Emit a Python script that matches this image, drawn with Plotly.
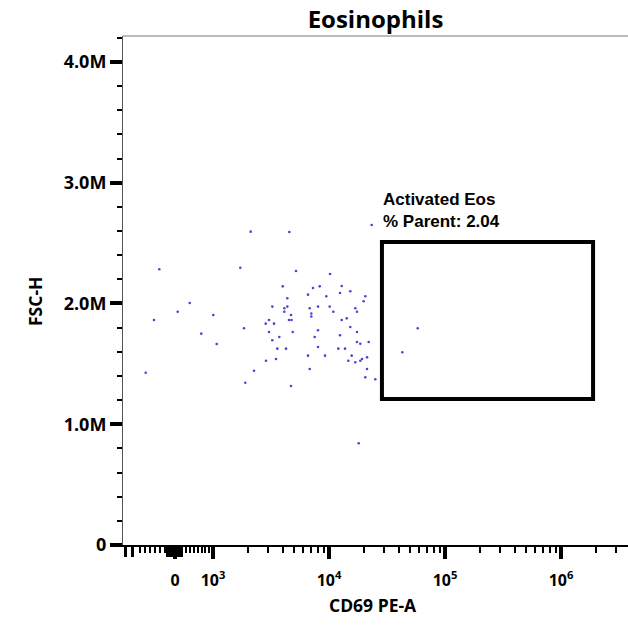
import numpy as np
import plotly.graph_objects as go

# ---- data (CD69 PE-A raw values, FSC-H) ----
cd69 = [2113, -314, 1719, 387, 71, -420, 1005, 1850, 692, 1076,
        -586, 2256, 1898, 4548, 5194, 3990, 4370, 3245, 4119, 4370,
        4119, 4704, 4521, 4751, 3040, 2847, 3357, 3040, 4866, 3729,
        3245, 3584, 4259, 2864, 3493, 4704, 6592, 7278, 8316, 6818,
        8040, 7038, 7038, 8040, 7527, 8040, 6592, 6818, 9238, 23340,
        10200, 12870, 9478, 12440, 15260, 20560, 19910, 10140, 10890, 16860,
        17430, 12870, 14210, 15260, 17430, 12440, 17430, 18620, 21990, 12030,
        13740, 15690, 14670, 16860, 18620, 19260, 21270, 21270, 20560, 25070,
        58180, 42850, 18030]
fsc = [2.595e6, 2.283e6, 2.296e6, 2.004e6, 1.932e6, 1.863e6, 1.905e6, 1.795e6, 1.750e6, 1.665e6,
       1.427e6, 1.443e6, 1.344e6, 2.592e6, 2.269e6, 2.142e6, 2.043e6, 1.974e6, 1.960e6, 1.974e6,
       1.932e6, 1.905e6, 1.863e6, 1.863e6, 1.863e6, 1.833e6, 1.833e6, 1.764e6, 1.764e6, 1.723e6,
       1.695e6, 1.626e6, 1.626e6, 1.526e6, 1.540e6, 1.317e6, 2.073e6, 2.128e6, 2.142e6, 1.960e6,
       1.974e6, 1.917e6, 1.892e6, 1.778e6, 1.723e6, 1.640e6, 1.568e6, 1.458e6, 1.568e6, 2.650e6,
       2.244e6, 2.145e6, 2.060e6, 2.087e6, 2.101e6, 2.060e6, 2.018e6, 1.974e6, 1.932e6, 1.960e6,
       1.932e6, 1.863e6, 1.877e6, 1.805e6, 1.764e6, 1.737e6, 1.681e6, 1.667e6, 1.681e6, 1.626e6,
       1.626e6, 1.568e6, 1.526e6, 1.513e6, 1.526e6, 1.540e6, 1.554e6, 1.458e6, 1.389e6, 1.372e6,
       1.795e6, 1.596e6, 0.842e6]

gate_x = [28600, 1890000]
gate_y = [1.21e6, 2.51e6]
gate_name = "Activated Eos"
gate_pct = 2.04

title = "Eosinophils"
x_title = "CD69 PE-A"
y_title = "FSC-H"

x_major = [0, 1e3, 1e4, 1e5, 1e6]
x_major_text = ["0", "10<sup>3</sup>", "10<sup>4</sup>", "10<sup>5</sup>", "10<sup>6</sup>"]
x_extra_long = [-1000, -850, -160, -120, -80, -40, 0, 40, 80, 120, 160]
x_minor = ([-700, -600, -500, -400, -300, -200] + [300, 400, 500, 600, 700, 800, 900]
           + [m * 10 ** k for k in (3, 4, 5) for m in range(2, 10)] + [2e6, 3e6, 4e6])
y_major = [0, 1e6, 2e6, 3e6, 4e6]
y_major_text = ["0", "1.0M", "2.0M", "3.0M", "4.0M"]
y_range = [0, 4.215e6]

# ---- biexponential-like display transform ----
LIN_POS = 38 / 116.0
LIN_NEG = 50 / 116.0
D0 = 3 - LIN_POS


def biex(v):
    v = np.asarray(v, dtype=float)
    logp = np.log10(np.maximum(v, 1e3))
    return np.where(v >= 1000, logp,
                    np.where(v >= 0, D0 + v / 1000 * LIN_POS, D0 + v / 1000 * LIN_NEG))


xr = [float(biex(-1040)), float(3 + 415 / 116.0)]

fig = go.Figure()
fig.add_trace(go.Scatter(
    x=biex(cd69), y=fsc, mode="markers",
    marker=dict(size=2.6, color="rgb(70,70,215)", line=dict(width=0)),
    hoverinfo="skip", showlegend=False))

gx = biex(gate_x)
fig.add_shape(type="rect", x0=float(gx[0]), x1=float(gx[1]), y0=gate_y[0], y1=gate_y[1],
              xref="x", yref="y", line=dict(color="black", width=4), fillcolor="rgba(0,0,0,0)")
fig.add_annotation(x=float(gx[0]), y=gate_y[1], xref="x", yref="y",
                   text=f"{gate_name}<br>% Parent: {gate_pct:.2f}",
                   showarrow=False, xanchor="left", yanchor="bottom", align="left",
                   xshift=-1, yshift=9,
                   font=dict(family="Liberation Sans", size=17, color="black", weight="bold"))

# top border
fig.add_shape(type="line", xref="paper", yref="paper", x0=0, x1=1, y0=1, y1=1,
              line=dict(color="#777777", width=1))

x_tick_font = dict(family="Open Sans", size=16, color="black", weight="bold")
y_tick_font = dict(family="Open Sans", size=18, color="black", weight="bold")

fig.update_layout(
    xaxis=dict(range=xr, showgrid=False, zeroline=False,
               showline=True, linecolor="black", linewidth=2,
               tickmode="array", tickvals=list(biex(x_major)), ticktext=x_major_text,
               ticks="outside", ticklen=12, tickwidth=3.5, tickcolor="black",
               ticklabelstandoff=8, tickfont=x_tick_font,
               minor=dict(tickmode="array", tickvals=list(biex(x_minor)),
                          ticks="outside", ticklen=6, tickwidth=2, tickcolor="black")),
    xaxis2=dict(range=xr, overlaying="x", matches="x", side="bottom", anchor="y",
                showgrid=False, zeroline=False, showline=False,
                tickmode="array", tickvals=list(biex(x_extra_long)),
                ticks="outside", ticklen=11, tickwidth=3, tickcolor="black",
                showticklabels=False),
    yaxis=dict(range=y_range, showgrid=False, zeroline=False,
               showline=True, linecolor="#555555", linewidth=1,
               tickmode="array", tickvals=y_major, ticktext=y_major_text,
               ticks="outside", ticklen=12, tickwidth=4, tickcolor="black",
               tickfont=y_tick_font,
               minor=dict(dtick=200000, tick0=0, ticks="outside", ticklen=5,
                          tickwidth=2, tickcolor="black")),
)
# invisible helper trace so the overlay axis is drawn
fig.add_trace(go.Scatter(x=[xr[0]], y=[y_range[0]], xaxis="x2", yaxis="y", mode="markers",
                         marker=dict(size=1, opacity=0), hoverinfo="skip", showlegend=False))

fig.add_annotation(text=x_title, xref="paper", yref="paper", x=(373 - 123) / 505.0,
                   y=-(605 - 545) / 509.0, showarrow=False, xanchor="center", yanchor="middle",
                   font=dict(family="Open Sans", size=17.5, color="black", weight="bold"))
fig.add_annotation(text=y_title, xref="paper", yref="paper", x=-(123 - 35) / 505.0,
                   y=(545 - 302) / 509.0, showarrow=False, xanchor="center", yanchor="middle",
                   textangle=-90,
                   font=dict(family="Open Sans", size=17.5, color="black", weight="bold"))

fig.update_layout(
    width=628, height=630,
    margin=dict(l=123, r=0, t=36, b=85),
    paper_bgcolor="white", plot_bgcolor="white",
    title=dict(text=title, x=(375.5) / 628.0, xanchor="center", y=1 - 20 / 630.0,
               yanchor="middle",
               font=dict(family="Open Sans", size=24, color="black", weight="bold")),
    showlegend=False,
)

fig.write_html("out.html")
